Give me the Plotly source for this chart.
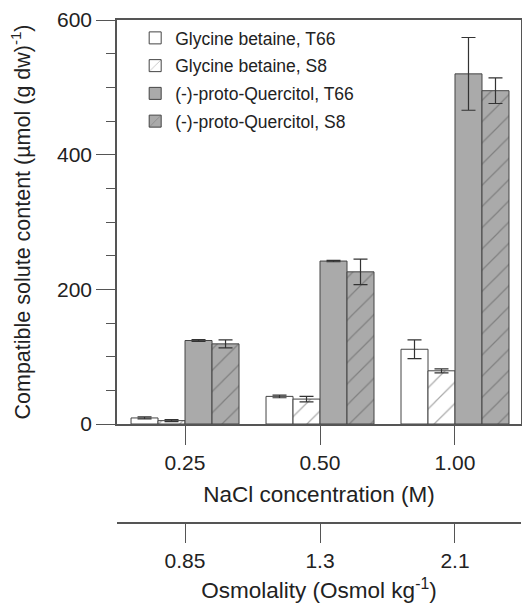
import plotly.graph_objects as go

categories = ["0.25", "0.50", "1.00"]
osmolality = ["0.85", "1.3", "2.1"]

gly_t66 = [9, 41, 111]
gly_t66_err = [1.5, 2, 14]
gly_s8 = [5, 37, 79]
gly_s8_err = [1.5, 4, 3]
quer_t66 = [124, 242, 520]
quer_t66_err = [1.5, 1, 54]
quer_s8 = [119, 226, 495]
quer_s8_err = [6, 19, 19]

series_names = ["Glycine betaine, T66", "Glycine betaine, S8",
                "(-)-proto-Quercitol, T66", "(-)-proto-Quercitol, S8"]

FONT = "Liberation Sans, Arial, sans-serif"
LINE = "#444444"
AX = "#555555"
GRAY = "#aaaaaa"

def hatch(bg):
    return dict(shape="/", size=15, solidity=0.08, fgcolor="#555555",
                bgcolor=bg, fillmode="overlay")

specs = [
    (gly_t66, gly_t66_err, "white", None),
    (gly_s8, gly_s8_err, "white", hatch("white")),
    (quer_t66, quer_t66_err, GRAY, None),
    (quer_s8, quer_s8_err, GRAY, hatch(GRAY)),
]

fig = go.Figure()
for i, (vals, errs, col, pat) in enumerate(specs):
    marker = dict(color=col, line=dict(color=LINE, width=1))
    if pat is not None:
        marker["pattern"] = pat
    fig.add_trace(go.Bar(
        x=categories, y=vals, name=series_names[i], marker=marker,
        legendgroup=f"g{i}",
        error_y=dict(type="data", array=errs, color="#333333",
                     thickness=1.2, width=7),
    ))

# invisible trace to carry the osmolality axis
fig.add_trace(go.Scatter(x=[0, 1, 2], y=[None, None, None], xaxis="x2",
                         showlegend=False, hoverinfo="skip", mode="markers"))

H_BOTTOM = 523
H_TOP = 20
Y0 = 424
dom0 = (H_BOTTOM - Y0) / (H_BOTTOM - H_TOP)

xr = [-0.504, 2.489]

fig.update_layout(
    width=522, height=603,
    margin=dict(l=117, r=1, t=H_TOP, b=603 - H_BOTTOM, pad=0),
    paper_bgcolor="white", plot_bgcolor="white",
    font=dict(family=FONT, size=21, color="#222222"),
    barmode="group", bargap=0.2, bargroupgap=0,
    showlegend=True,
    legend=dict(x=0.045, y=1.0, xanchor="left", yanchor="top",
                font=dict(size=17.5, family=FONT, color="#222222"),
                bgcolor="rgba(0,0,0,0)", tracegroupgap=2,
                traceorder="grouped"),
    xaxis=dict(
        type="category", range=xr, anchor="y",
        showline=True, linecolor=AX, linewidth=1.5, mirror=True,
        ticks="outside", ticklen=19, tickcolor=AX, tickwidth=1.2,
        tickfont=dict(size=21), showgrid=False, zeroline=False,
        title=dict(text="NaCl concentration (M)", font=dict(size=22.5), standoff=13),
        automargin=False,
    ),
    xaxis2=dict(
        overlaying="x", anchor="free", position=0, range=xr,
        tickvals=[0, 1, 2], ticktext=osmolality,
        showline=True, linecolor=AX, linewidth=1.5,
        ticks="outside", ticklen=19, tickcolor=AX, tickwidth=1.2,
        tickfont=dict(size=21), showgrid=False, zeroline=False,
        title=dict(text="Osmolality (Osmol kg<sup>-1</sup>)", font=dict(size=22.5), standoff=11),
        automargin=False,
    ),
    yaxis=dict(
        domain=[dom0, 1], range=[0, 600],
        tickvals=[0, 200, 400, 600],
        showline=True, linecolor=AX, linewidth=1.5, mirror=True,
        ticks="outside", ticklen=19, tickcolor=AX, tickwidth=1.2,
        minor=dict(dtick=50, ticks="outside", ticklen=9, tickcolor=AX, tickwidth=1.2),
        tickfont=dict(size=21), showgrid=False, zeroline=False,
        title=dict(text="Compatible solute content (µmol (g dw)<sup>-1</sup>)",
                   font=dict(size=21.5), standoff=20),
        automargin=False,
    ),
)

fig.write_html("out.html")
